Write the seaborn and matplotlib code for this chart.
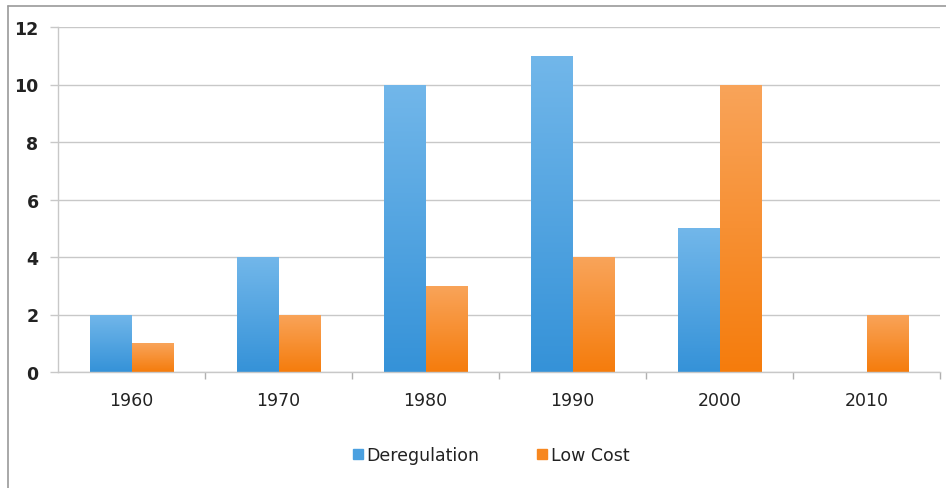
import numpy as np
import pandas as pd
import matplotlib
matplotlib.use("Agg")
import matplotlib.pyplot as plt
import matplotlib.colors as mcolors
from matplotlib.lines import Line2D
import seaborn as sns

decades = ["1960", "1970", "1980", "1990", "2000", "2010"]
deregulation = [2, 4, 10, 11, 5, 0]
low_cost = [1, 2, 3, 4, 10, 2]
series_names = ["Deregulation", "Low Cost"]
yticks = [0, 2, 4, 6, 8, 10, 12]

df = pd.DataFrame({
    "decade": decades * 2,
    "value": deregulation + low_cost,
    "series": [series_names[0]] * len(decades) + [series_names[1]] * len(decades),
})

sns.set_theme(style="white")
plt.rcParams['font.family'] = ['DejaVu Sans']

W, H = 946, 489
fig = plt.figure(figsize=(W / 100, H / 100), dpi=100)
fig.patch.set_facecolor("white")
ax = fig.add_axes([58 / W, 116 / H, (940 - 58) / W, (373 - 28) / H])

base = {"Deregulation": "#4aa0e0", "Low Cost": "#f7871f"}
tops = {"Deregulation": "#72b7ea", "Low Cost": "#f9a45a"}
bots = {"Deregulation": "#3592d8", "Low Cost": "#f57c0c"}

sns.barplot(data=df, x="decade", y="value", hue="series", order=decades,
            hue_order=series_names, palette=base, width=0.571, ax=ax,
            legend=False, saturation=1, linewidth=0)

ax.set_ylim(0, 12)
ax.set_xlim(-0.5, len(decades) - 0.5)

# gradient fills
n = len(decades)
for i, p in enumerate(ax.patches):
    s = series_names[i // n] if i < 2 * n else None
    if s is None:
        continue
    x0, y0 = p.get_x(), p.get_y()
    w, h = p.get_width(), p.get_height()
    if h <= 0:
        continue
    cmap = mcolors.LinearSegmentedColormap.from_list("g", [bots[s], tops[s]])
    grad = np.linspace(0, 1, 256).reshape(-1, 1)
    im = ax.imshow(grad, cmap=cmap, origin="lower", aspect="auto",
                   extent=[x0, x0 + w, y0, y0 + h], zorder=p.get_zorder() + 0.1)
    im.set_clip_path(p)
ax.set_xlim(-0.5, len(decades) - 0.5)
ax.set_ylim(0, 12)

ax.set_yticks(yticks)
ax.set_yticklabels([str(v) for v in yticks], fontsize=12.5, fontweight="semibold", color="#222222")
ax.set_xticks(range(n))
ax.set_xticklabels(decades, fontsize=12.5, color="#222222")
ax.set_xticks([k + 0.5 for k in range(n)], minor=True)
ax.tick_params(axis="x", which="major", length=0, pad=14, bottom=True)
ax.tick_params(axis="x", which="minor", length=5, color="#b0b0b0", width=1,
               direction="out", bottom=True)
ax.tick_params(axis="y", which="major", length=6, color="#c8c8c8", width=1,
               direction="out", pad=8, left=True)
ax.set_xlabel("")
ax.set_ylabel("")
ax.grid(axis="y", color="#c8c8c8", linewidth=1)
ax.set_axisbelow(True)
for side in ["top", "right"]:
    ax.spines[side].set_visible(False)
for side in ["left", "bottom"]:
    ax.spines[side].set_color("#c8c8c8")
    ax.spines[side].set_linewidth(1)

handles = [Line2D([0], [0], marker="s", linestyle="none", markersize=7,
                  markerfacecolor=base[s], markeredgecolor=base[s]) for s in series_names]
fig.legend(handles, series_names, loc="center", bbox_to_anchor=(0.518, 33 / H),
           ncol=2, frameon=False, fontsize=12.5, handletextpad=0.1, columnspacing=3.2,
           handlelength=0.8, labelcolor="#222222")

# partial frame (left and top edges)
fig.add_artist(Line2D([8 / W, 8 / W], [0, 1 - 7 / H], transform=fig.transFigure, color="#9a9a9a", lw=1.2))
fig.add_artist(Line2D([8 / W, 1], [1 - 7 / H, 1 - 7 / H], transform=fig.transFigure, color="#9a9a9a", lw=1.2))

fig.savefig("out.png", dpi=100, facecolor="white")
